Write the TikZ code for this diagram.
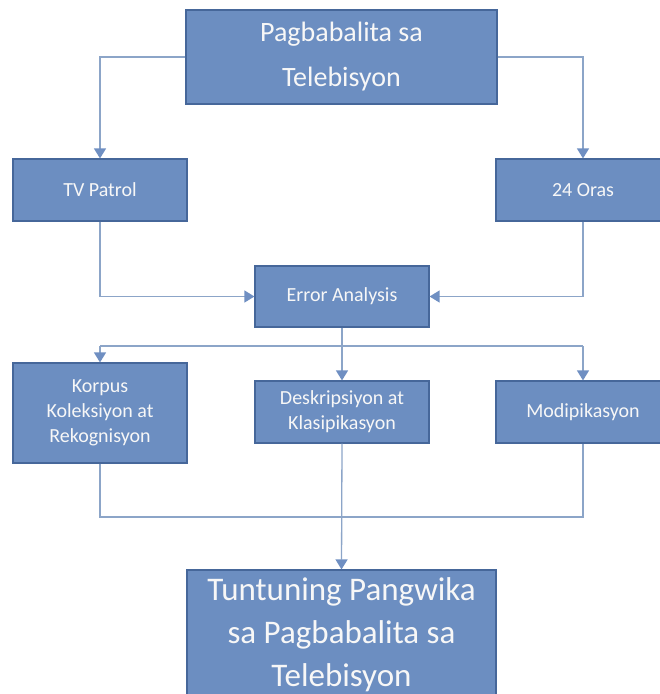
\documentclass[tikz,border=0pt]{standalone}
\usepackage{fontspec}
\setmainfont{Carlito}
\usetikzlibrary{arrows.meta}
\definecolor{boxfill}{HTML}{6C8EC1}
\definecolor{boxline}{HTML}{46679A}
\definecolor{linkline}{HTML}{8CA5C8}
\definecolor{tipfill}{HTML}{6F8FC2}
\begin{document}
\begin{tikzpicture}[x=1pt,y=-1pt,
    box/.style={draw=boxline, line width=1.2pt, fill=boxfill, text=white!94!gray,
        align=center, inner sep=0pt, minimum width=174pt, minimum height=62pt,
        font=\fontsize{20}{25}\selectfont},
    link/.style={draw=linkline, line width=1.3pt},
    tip/.style={link, -{Triangle[width=12pt,length=10pt,color=tipfill]}}]
\useasboundingbox (0,0) rectangle (660,694);
\fill[white] (0,0) rectangle (660,694);
% draw boxes
    \node[box, minimum width=311pt, minimum height=94pt,
        font=\fontsize{28}{45}\selectfont] (top) at (341.5,57) {Pagbabalita sa\\Telebisyon};
    \node[box] (tvp) at (100,190) {TV Patrol};
    \node[box] (oras) at (583,190) {24 Oras};
    \node[box, minimum height=61pt] (err) at (342,296.5) {Error Analysis};
    \node[box, minimum height=100pt] (korp) at (100,413) {Korpus\\Koleksiyon at\\Rekognisyon};
    \node[box] (desk) at (342,412) {Deskripsiyon at\\Klasipikasyon};
    \node[box] (modi) at (583,412) {Modipikasyon};
    \node[box, minimum width=309pt, minimum height=130pt,
        font=\fontsize{33}{43}\selectfont] (tun) at (341.5,635) {Tuntuning Pangwika\\sa Pagbabalita sa\\Telebisyon};
% draw connectors
    \coordinate (branch) at (342,346);
    \coordinate (join) at (342,517);
    \draw[tip] (top.west) -| (tvp.north);
    \draw[tip] (top.east) -| (oras.north);
    \draw[tip] (tvp.south) |- (err.west);
    \draw[tip] (oras.south) |- (err.east);
    \draw[tip] (err.south) -- (desk.north);
    \draw[link] (korp.north |- branch) -- (modi.north |- branch);
    \draw[tip] (korp.north |- branch) -- (korp.north);
    \draw[tip] (modi.north |- branch) -- (modi.north);
    \draw[link] (korp.south) |- (join) -| (modi.south);
    \draw[tip] (desk.south) -- (tun.north);
\end{tikzpicture}
\end{document}
